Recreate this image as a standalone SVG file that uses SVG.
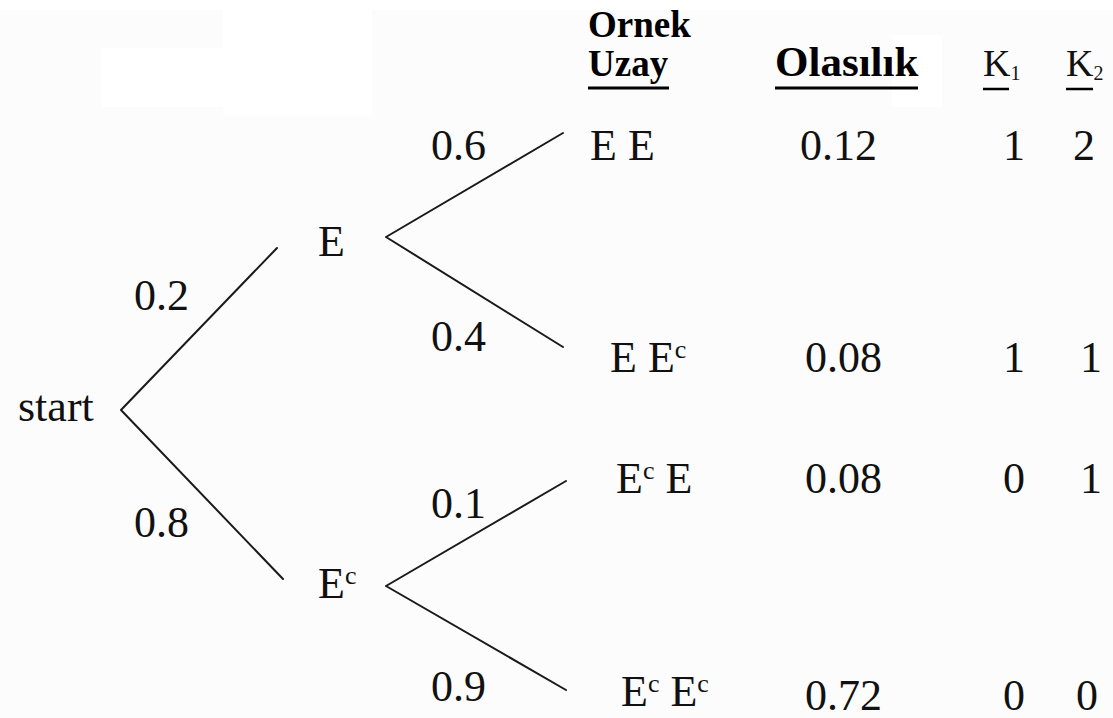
<svg xmlns="http://www.w3.org/2000/svg" width="1113" height="718" viewBox="0 0 1113 718" font-family="Liberation Serif">
  <style>
    text, tspan { font-family: "Liberation Serif", serif !important; }
    .edge { stroke: #1a1a1a; stroke-width: 2; fill: none; stroke-linecap: round; stroke-linejoin: round; }
  </style>

  <!-- paper -->
  <rect x="0" y="0" width="1113" height="718" fill="#fcfcfc"/>
  <rect x="0" y="0" width="1113" height="10" fill="#ffffff"/>
  <rect x="102" y="48" width="121" height="59" fill="#ffffff"/>
  <rect x="223" y="10" width="149" height="106" fill="#ffffff"/>
  <rect x="892" y="35" width="50" height="72" fill="#ffffff"/>

  <!-- column headers -->
  <g id="headers" fill="#000">
    <text font-weight="bold" x="588" y="37" font-size="37">Ornek</text>
    <text font-weight="bold" x="588" y="76" font-size="37">Uzay</text>
    <line x1="588" y1="88" x2="669" y2="88" stroke="#000" stroke-width="3"/>
    <text font-weight="bold" x="775" y="76" font-size="43">Olasılık</text>
    <line x1="775" y1="88" x2="918" y2="88" stroke="#000" stroke-width="3"/>
    <text x="983" y="76" font-size="38" fill="#111">K<tspan font-size="20" dy="4">1</tspan></text>
    <line x1="983" y1="89" x2="1009" y2="89" stroke="#000" stroke-width="2.5"/>
    <text x="1066" y="76" font-size="38" fill="#111">K<tspan font-size="20" dy="4">2</tspan></text>
    <line x1="1066" y1="89" x2="1093" y2="89" stroke="#000" stroke-width="2.5"/>
  </g>

  <!-- branches -->
  <g id="connectors">
    <polyline class="edge" points="277,248 121,410 283,579"/>
    <polyline class="edge" points="563,133 386,237 563,347"/>
    <polyline class="edge" points="566,481 386,586 566,690"/>
  </g>

  <!-- branch probabilities -->
  <g id="edge-labels" font-size="44" fill="#111">
    <text x="134" y="310">0.2</text>
    <text x="134" y="537">0.8</text>
    <text x="431" y="160">0.6</text>
    <text x="431" y="351">0.4</text>
    <text x="431" y="518">0.1</text>
    <text x="431" y="701">0.9</text>
  </g>

  <!-- tree nodes -->
  <g id="node-start" font-size="44" fill="#111"><text x="18" y="421">start</text></g>
  <g id="node-E" font-size="44" fill="#111"><text x="318" y="256">E</text></g>
  <g id="node-Ec" font-size="44" fill="#111"><text x="318" y="598">E<tspan font-size="26" dy="-14">c</tspan></text></g>

  <!-- outcome rows -->
  <g id="row-EE" font-size="44" fill="#111">
    <text x="590" y="160">E E</text>
    <text x="800" y="160">0.12</text>
    <text x="1003" y="160">1</text>
    <text x="1073" y="160">2</text>
  </g>
  <g id="row-EEc" font-size="44" fill="#111">
    <text x="610" y="372">E E<tspan font-size="26" dy="-14">c</tspan></text>
    <text x="805" y="372">0.08</text>
    <text x="1003" y="372">1</text>
    <text x="1080" y="372">1</text>
  </g>
  <g id="row-EcE" font-size="44" fill="#111">
    <text x="616" y="493">E<tspan font-size="26" dy="-14">c</tspan><tspan dy="14"> E</tspan></text>
    <text x="805" y="493">0.08</text>
    <text x="1003" y="493">0</text>
    <text x="1080" y="493">1</text>
  </g>
  <g id="row-EcEc" font-size="44" fill="#111">
    <text x="621" y="706">E<tspan font-size="26" dy="-14">c</tspan><tspan dy="14"> E</tspan><tspan font-size="26" dy="-14">c</tspan></text>
    <text x="805" y="710">0.72</text>
    <text x="1003" y="710">0</text>
    <text x="1076" y="710">0</text>
  </g>
</svg>
